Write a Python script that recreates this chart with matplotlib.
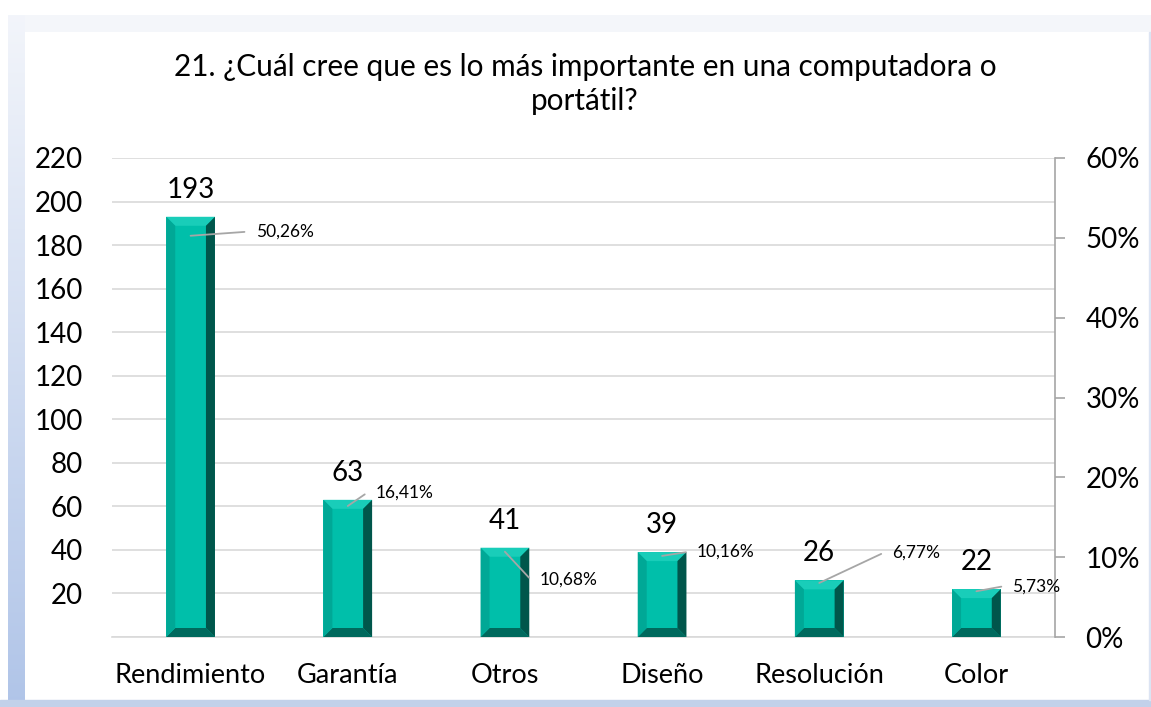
import matplotlib.pyplot as plt
import numpy as np
from matplotlib.patches import Rectangle, Polygon

plt.rcParams['font.family'] = ['Lato', 'DejaVu Sans']

# data
categorias = ['Rendimiento', 'Garantía', 'Otros', 'Diseño', 'Resolución', 'Color']
valores = [193, 63, 41, 39, 26, 22]
porcentajes = [50.26, 16.41, 10.68, 10.16, 6.77, 5.73]
etiquetas_pct = ['50,26%', '16,41%', '10,68%', '10,16%', '6,77%', '5,73%']
# label offsets (pixels) from each percentage point
offsets_pct = [(65, 4), (28, 13), (35, -28), (35, 4), (73, 30), (36, 5)]

titulo = '21. ¿Cuál cree que es lo más importante en una computadora o\nportátil?'

W, H = 1151, 707
fig = plt.figure(figsize=(W / 100, H / 100), dpi=100)

# background frame: light top band, blue-ish gradient strip on the left, blue band at bottom
bg = fig.add_axes([0, 0, 1, 1], zorder=-10)
bg.set_axis_off()
img = np.ones((H, W, 3))
light = np.array([0.957, 0.965, 0.984])
blue = np.array([0.69, 0.77, 0.91])
t = np.linspace(0, 1, H)[:, None]  # 0 top -> 1 bottom
strip = light[None, :] * (1 - t) + blue[None, :] * t
img[15:, 8:25, :] = strip[15:, None, :]
img[15:32, 8:, :] = light
img[15:32, 8:25, :] = strip[15:32, None, :]
bg.imshow(img, extent=[0, 1, 0, 1], aspect='auto', interpolation='nearest')
bg.add_patch(Rectangle((0, 0), 1, 7 / H, color='#c2d1ea', transform=bg.transAxes))
bg.add_patch(Rectangle((1149 / W, 7 / H), 2 / W, (700 - 32) / H, color='#dce4f3',
                       transform=bg.transAxes))
bg.set_xlim(0, 1)
bg.set_ylim(0, 1)

ax = fig.add_axes([112 / W, 1 - 637 / H, (1055 - 112) / W, (637 - 158) / H])
ax.set_facecolor('none')
x = np.arange(len(categorias))
ancho = 0.31
bars = ax.bar(x, valores, width=ancho, color='#00bfaa', zorder=3)

ax.set_ylim(0, 220)
ax.set_xlim(-0.5, len(categorias) - 0.5)
ax.set_yticks(np.arange(0, 221, 20))
ax.set_yticklabels([''] + [str(v) for v in range(20, 221, 20)])
ax.yaxis.grid(True, color='#d9d9d9', linewidth=1.2, zorder=0)
ax.set_axisbelow(True)
for s in ['top', 'left', 'right']:
    ax.spines[s].set_visible(False)
ax.spines['bottom'].set_color('#d9d9d9')
ax.spines['bottom'].set_linewidth(1.2)
ax.tick_params(axis='y', length=0, labelsize=20, pad=21)
ax.tick_params(axis='x', length=0, labelsize=19.5, pad=19)
ax.set_xticks(x)
ax.set_xticklabels(categorias)

# bevel shading on each bar
fig.canvas.draw()
inv = ax.transData.inverted()
b = 9  # bevel in pixels
for rect in bars:
    x0, y0 = ax.transData.transform((rect.get_x(), 0))
    x1, y1 = ax.transData.transform((rect.get_x() + rect.get_width(), rect.get_height()))
    bb = min(b, (y1 - y0) / 2)
    pts = {
        'top': [(x0, y1), (x1, y1), (x1 - b, y1 - bb), (x0 + b, y1 - bb)],
        'bottom': [(x0, y0), (x1, y0), (x1 - b, y0 + bb), (x0 + b, y0 + bb)],
        'left': [(x0, y0), (x0, y1), (x0 + b, y1 - bb), (x0 + b, y0 + bb)],
        'right': [(x1, y0), (x1, y1), (x1 - b, y1 - bb), (x1 - b, y0 + bb)],
    }
    cols = {'top': '#19cdb9', 'bottom': '#00695d', 'left': '#00a896', 'right': '#00564b'}
    for k, p in pts.items():
        dp = inv.transform(p)
        ax.add_patch(Polygon(dp, closed=True, color=cols[k], zorder=4, linewidth=0))

for xi, v in zip(x, valores):
    ax.annotate(str(v), (xi, v), xytext=(0, 14), textcoords='offset pixels',
                ha='center', va='bottom', fontsize=20, zorder=5)

ax2 = ax.twinx()
ax2.set_ylim(0, 60)
ax2.set_yticks(np.arange(0, 61, 10))
ax2.set_yticklabels([f'{v}%' for v in range(0, 61, 10)])
for s in ['top', 'left', 'bottom']:
    ax2.spines[s].set_visible(False)
ax2.spines['right'].set_color('#a6a6a6')
ax2.spines['right'].set_linewidth(1.2)
ax2.tick_params(axis='y', length=7, width=1.2, color='#a6a6a6', labelsize=20, pad=15)

for xi, p, lab, (dx, dy) in zip(x, porcentajes, etiquetas_pct, offsets_pct):
    ax2.annotate(lab, (xi, p), xytext=(dx, dy), textcoords='offset pixels',
                 ha='left', va='center', fontsize=12.5, zorder=6,
                 arrowprops=dict(arrowstyle='-', color='#a6a6a6', lw=1.3,
                                 shrinkA=6, shrinkB=0, relpos=(0, 0.5),
                                 connectionstyle='arc,angleA=180,armA=9,angleB=0,armB=0,rad=0'))

fig.text(585 / W, 1 - 84 / H, titulo, ha='center', va='center', fontsize=21.4,
         linespacing=1.25)

fig.savefig('out.png', dpi=100)
